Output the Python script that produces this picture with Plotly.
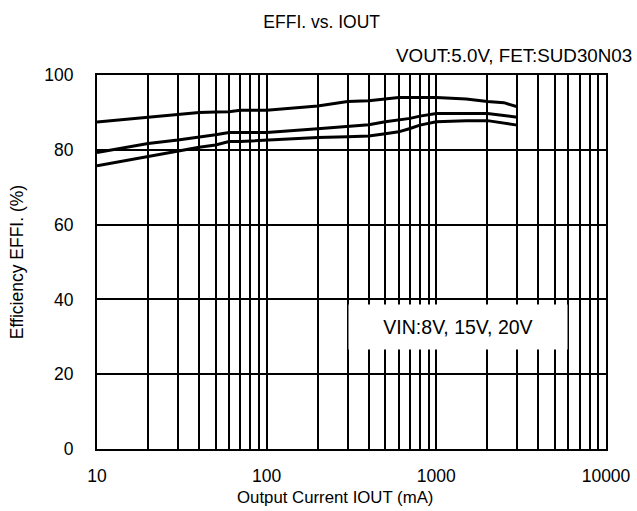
import plotly.graph_objects as go

# Output current (mA)
iout = [10, 20, 30, 40, 50, 60, 70, 100, 200, 300, 400, 500, 600, 700, 800,
        1000, 1500, 2000, 2500, 3000]
# Efficiency (%) for the three input voltages
eff_8v = [87.4, 88.7, 89.5, 90.0, 90.1, 90.2, 90.6, 90.6, 91.7, 92.9, 93.1, 93.5,
          94.0, 94.0, 94.0, 94.0, 93.6, 92.9, 92.6, 91.5]
eff_15v = [79.3, 81.7, 82.6, 83.3, 84.0, 84.6, 84.6, 84.6, 85.6, 86.2, 86.7, 87.5,
           87.9, 88.4, 89.0, 89.7, 89.7, 89.7, 89.2, 88.7]
eff_20v = [75.7, 78.2, 79.5, 80.7, 81.3, 82.2, 82.2, 82.6, 83.3, 83.5, 83.7, 84.3,
           84.8, 85.7, 86.6, 87.5, 87.8, 87.8, 87.1, 86.6]

x_major = [10, 100, 1000, 10000]
x_major_text = ["10", "100", "1000", "10000"]
x_minor = [m * d for d in (10, 100, 1000) for m in range(2, 10)]
y_ticks = [0, 20, 40, 60, 80, 100]

FONT = "Liberation Sans, Arial, sans-serif"

fig = go.Figure()
for name, ys in (("8V", eff_8v), ("15V", eff_15v), ("20V", eff_20v)):
    fig.add_trace(go.Scatter(x=iout, y=ys, mode="lines", name=name,
                             line=dict(color="black", width=3), showlegend=False))

fig.update_layout(
    width=637, height=511,
    margin=dict(l=97, r=31, t=75, b=62, autoexpand=False),
    paper_bgcolor="white", plot_bgcolor="white",
    font=dict(family=FONT, color="black", size=17),
    title=dict(text="EFFI. vs. IOUT", xref="container", x=0.505, xanchor="center",
               yref="container", y=1 - 22 / 511, yanchor="middle",
               font=dict(size=17.5, family=FONT, color="black")),
    xaxis=dict(type="log", range=[1, 4], tickmode="array", tickvals=x_major,
               ticktext=x_major_text, showgrid=True, gridcolor="black", gridwidth=1.5,
               showline=True, linecolor="black", linewidth=2, mirror=True,
               ticks="", ticklabelstandoff=10, zeroline=False, automargin=False,
               minor=dict(tickmode="array", tickvals=x_minor, showgrid=True,
                          gridcolor="black", gridwidth=1.5, ticks=""),
               tickfont=dict(size=17.5)),
    yaxis=dict(range=[0, 100], tickmode="array", tickvals=y_ticks,
               showgrid=True, gridcolor="black", gridwidth=1.5,
               showline=True, linecolor="black", linewidth=2, mirror=True,
               ticks="", ticklabelstandoff=18, zeroline=False, automargin=False,
               title=dict(text="Efficiency EFFI. (%)", font=dict(size=17.5), standoff=16),
               tickfont=dict(size=17.5)),
    annotations=[
        dict(text="Output Current IOUT (mA)", xref="paper", yref="paper",
             x=(335 - 97) / 509, y=(449 - 497) / 374, xanchor="center", yanchor="middle",
             showarrow=False, font=dict(size=16.8)),
        dict(text="VOUT:5.0V, FET:SUD30N03", xref="paper", yref="paper",
             x=(634 - 97) / 509, y=(449 - 55) / 374, xanchor="right", yanchor="middle",
             showarrow=False, font=dict(size=18.8)),
        dict(text="VIN:8V, 15V, 20V", xref="paper", yref="paper",
             x=(458 - 97) / 509, y=(449 - 327) / 374, xanchor="center", yanchor="middle",
             showarrow=False, bgcolor="white", width=218, height=44, borderpad=0,
             font=dict(size=19.5)),
    ],
)

fig.write_html("out.html", config={"displayModeBar": False},
               post_script="document.body.style.margin='0';document.body.style.padding='0';")
